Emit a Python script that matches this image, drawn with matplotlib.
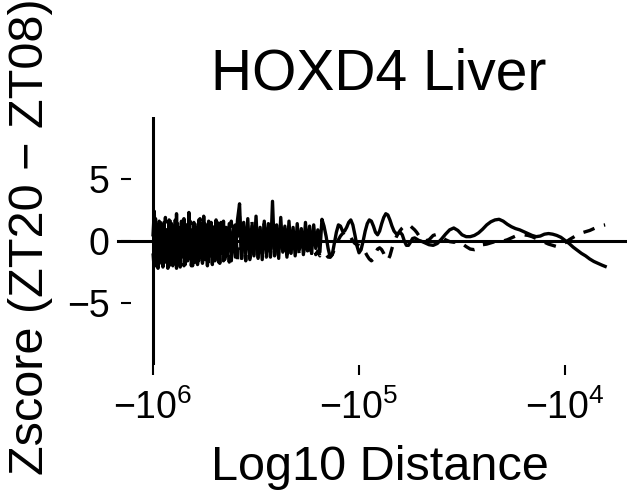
import numpy as np
import matplotlib
matplotlib.use("Agg")
import matplotlib.pyplot as plt

plt.rcParams['font.family'] = ['Liberation Sans', 'DejaVu Sans']
plt.rcParams['mathtext.fontset'] = 'custom'
plt.rcParams['mathtext.rm'] = 'Liberation Sans'
plt.rcParams['mathtext.it'] = 'Liberation Sans:italic'
plt.rcParams['mathtext.bf'] = 'Liberation Sans:bold'

title = "HOXD4 Liver"
x_label = "Log10 Distance"
y_label = "Zscore (ZT20 \u2212 ZT08)"

# log10 of |distance| (distances are negative, upstream)
log_dist = [
    6.000, 5.994, 5.988, 5.982, 5.976, 5.970, 5.964, 5.958, 5.952, 5.946,
    5.940, 5.934, 5.928, 5.922, 5.916, 5.910, 5.904, 5.898, 5.892, 5.886,
    5.880, 5.874, 5.868, 5.862, 5.856, 5.850, 5.844, 5.838, 5.832, 5.826,
    5.820, 5.814, 5.808, 5.802, 5.796, 5.790, 5.784, 5.778, 5.772, 5.766,
    5.760, 5.754, 5.748, 5.742, 5.736, 5.730, 5.724, 5.718, 5.712, 5.706,
    5.700, 5.694, 5.688, 5.682, 5.676, 5.670, 5.664, 5.658, 5.652, 5.646,
    5.640,
    5.63, 5.62, 5.61, 5.60, 5.59, 5.58, 5.57, 5.56, 5.55, 5.54,
    5.53, 5.52, 5.51, 5.50, 5.49, 5.48, 5.47, 5.46, 5.45, 5.44,
    5.43, 5.42, 5.41, 5.40, 5.39, 5.38, 5.37, 5.36, 5.35, 5.34,
    5.33, 5.32, 5.31, 5.30, 5.29, 5.28, 5.27, 5.26, 5.25, 5.24,
    5.23, 5.22, 5.21, 5.20, 5.19, 5.18, 5.17,
    5.16, 5.15, 5.14, 5.13, 5.12, 5.11, 5.10, 5.09, 5.08, 5.07, 5.06, 5.05,
    5.04, 5.03, 5.02, 5.01, 5.00, 4.99, 4.98, 4.97, 4.96, 4.95, 4.94, 4.93,
    4.92, 4.91, 4.90, 4.89, 4.88, 4.87, 4.86, 4.85, 4.84, 4.83, 4.82, 4.81,
    4.80, 4.79, 4.78, 4.77, 4.76, 4.75, 4.74, 4.73, 4.72, 4.71, 4.70,
    4.68, 4.66, 4.64, 4.62, 4.60, 4.58, 4.56, 4.54, 4.52, 4.50, 4.48, 4.46,
    4.44, 4.42, 4.40, 4.38, 4.36, 4.34, 4.32, 4.30, 4.28, 4.26, 4.24, 4.22,
    4.20, 4.18, 4.16, 4.14, 4.12, 4.10, 4.08, 4.06, 4.04, 4.02, 4.00, 3.98,
    3.96, 3.94, 3.92, 3.90, 3.88, 3.86, 3.84, 3.82, 3.805,
]

z_solid = [
    0.5, 2.4, -2.0, 1.3, -2.2, 1.6, -1.4, 1.1, -2.1, 1.5,
    -1.7, 0.9, -2.2, 1.7, -1.3, 1.4, -2.0, 1.2, -1.8, 2.2,
    -1.5, 1.0, -2.1, 1.6, -1.2, 1.8, -1.9, 1.3, -1.6, 2.3,
    -1.4, 0.9, -2.0, 1.5, -1.7, 1.1, -1.9, 1.7, -1.3, 1.4,
    -1.8, 2.0, -1.5, 1.2, -2.0, 1.6, -1.1, 1.5, -1.9, 0.8,
    -1.6, 1.7, -1.3, 1.2, -1.8, 1.5, -1.0, 1.6, -1.5, 1.1,
    -1.2,
    1.4, -1.6, 1.2, -1.3, 1.7, 3.0, -1.4, 1.5, -1.1, 1.8,
    -1.5, 1.2, -1.2, 2.0, -1.4, 1.1, -1.5, 1.6, -1.0, 1.4,
    -1.3, 3.2, -1.2, 1.3, -1.4, 1.9, -0.9, 1.2, -1.3, 1.6,
    -1.0, 1.1, -1.2, 1.4, -0.7, 1.0, -1.1, 1.5, -0.8, 1.2,
    -1.0, 1.3, -0.6, 0.9, -0.9, 1.75, 1.2,
    0.4, -0.6, -1.3, -1.1, -0.2, 0.7, 1.3, 1.2, 0.8, 0.8, 1.1, 1.5,
    1.7, 1.3, 0.5, -0.4, -0.95, -0.7, 0.0, 0.8, 1.4, 1.7, 1.6, 1.2,
    0.7, 0.5, 0.8, 1.4, 1.9, 2.2, 2.1, 1.7, 1.2, 0.8, 0.6, 0.6,
    0.7, 0.5, 0.0, -0.35, -0.35, -0.1, 0.2, 0.25, 0.15, 0.05, 0.0,
    -0.15, -0.3, -0.35, -0.2, 0.15, 0.55, 0.9, 1.05, 0.85, 0.5, 0.35, 0.35,
    0.45, 0.65, 0.95, 1.3, 1.55, 1.7, 1.75, 1.6, 1.35, 1.15, 1.0, 0.9,
    0.75, 0.6, 0.45, 0.35, 0.4, 0.55, 0.6, 0.55, 0.45, 0.3, 0.05, -0.2,
    -0.5, -0.75, -1.0, -1.2, -1.45, -1.65, -1.8, -1.95, -2.05,
]

z_dashed = [
    -1.0, -2.3, 1.8, -1.6, 1.4, -2.1, 1.7, -1.9, 1.0, -1.7,
    1.9, -1.4, 1.2, -2.0, 1.6, -1.8, 0.9, -1.5, 1.7, -2.2,
    1.4, -1.9, 1.1, -1.3, 1.5, -2.0, 1.0, -1.6, 1.3, -1.5,
    1.6, -2.0, 0.8, -1.4, 1.5, -1.8, 1.2, -1.6, 1.8, -1.2,
    1.0, -1.7, 1.4, -1.5, 0.9, -1.8, 1.3, -1.2, 1.6, -1.6,
    1.1, -1.4, 1.5, -1.7, 0.9, -1.3, 1.4, -1.6, 1.0, -1.1,
    0.8,
    -1.7, 1.6, -1.2, 1.3, -1.6, 2.0, -1.5, 1.3, -1.6, 1.0,
    -1.4, 1.7, -1.3, 1.2, -1.5, 0.9, -1.0, 1.4, -1.3, 1.1,
    -1.2, 1.0, -1.1, 1.3, -0.8, 0.8, -1.2, 1.0, -1.1, 0.9,
    -1.2, 0.7, -1.0, 0.6, -1.2, 0.8, -1.1, 0.5, -1.2, 0.4,
    -1.0, 0.3, -1.1, -0.8, -1.2, -0.9, -1.0,
    -1.1, -1.3, -1.3, -1.1, -0.7, -0.3, 0.1, 0.4, 0.6, 0.7, 0.75, 0.6,
    0.3, 0.0, -0.2, -0.3, -0.35, -0.45, -0.6, -0.9, -1.2, -1.45, -1.6, -1.45,
    -1.0, -0.65, -0.55, -0.7, -1.0, -1.4, -1.55, -1.2, -0.6, -0.1, 0.3, 0.6,
    0.85, 1.05, 1.2, 1.3, 1.3, 1.2, 1.05, 0.9, 0.7, 0.45, 0.25,
    0.0, 0.1, 0.45, 0.55, 0.35, 0.1, -0.05, -0.1, -0.05, -0.2, -0.45, -0.65,
    -0.7, -0.6, -0.3, -0.25, -0.15, -0.05, 0.0, 0.0, 0.1, 0.25, 0.4, 0.5,
    0.5, 0.45, 0.35, 0.2, 0.05, -0.1, -0.25, -0.35, -0.45, -0.4, -0.15, 0.1,
    0.3, 0.5, 0.65, 0.75, 0.85, 1.0, 1.15, 1.25, 1.3,
]

x_ticks = [6, 5, 4]
x_tick_labels = [r'$-10^6$', r'$-10^5$', r'$-10^4$']
y_ticks = [-5, 0, 5]

fig = plt.figure(figsize=(6.27, 4.92), dpi=100)
ax = fig.add_axes([131 / 627, 127 / 492, 496 / 627, 248 / 492])

ax.plot(log_dist, z_solid, color='black', lw=2.4, solid_joinstyle='round')
ax.plot(log_dist, z_dashed, color='black', lw=2.4, ls=(0, (3.5, 3)))
ax.axhline(0, xmin=-0.026, xmax=1, color='black', lw=2.2, clip_on=False)
ax.axvline(6, color='black', lw=2.2)

ax.set_xlim(6.107, 3.699)
ax.set_ylim(-10, 10)
for s in ax.spines.values():
    s.set_visible(False)

ax.set_xticks(x_ticks)
ax.set_xticklabels(x_tick_labels)
ax.set_yticks(y_ticks)
ax.tick_params(axis='both', labelsize=27, length=7.5, width=1.5)
ax.tick_params(axis='y', pad=8)
ax.tick_params(axis='x', pad=10)

ax.set_title(title, fontsize=41, pad=20)
fig.text(380 / 627, 12 / 492, x_label, fontsize=35, ha='center', va='baseline')
fig.text(31 / 627, 255 / 492, y_label, fontsize=35, rotation=90,
         ha='center', va='center')

fig.savefig('out.png', dpi=100)
